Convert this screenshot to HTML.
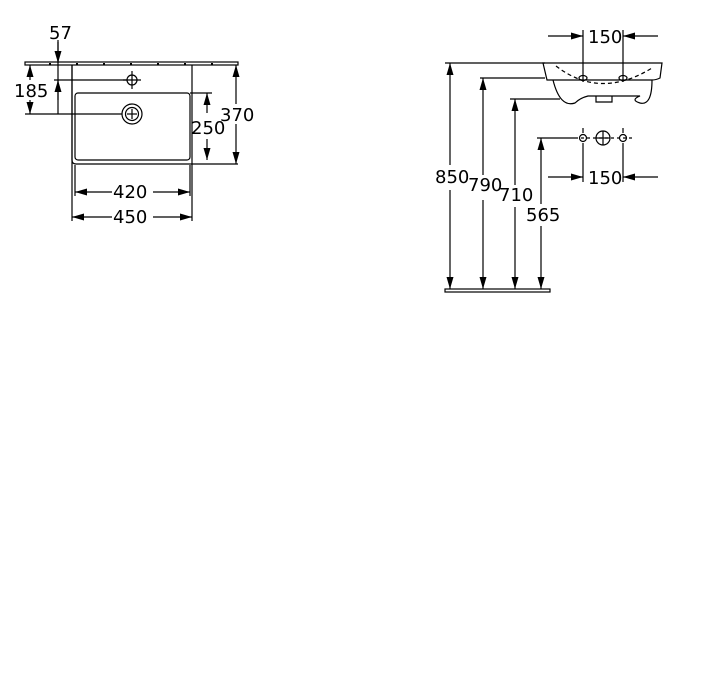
<!DOCTYPE html>
<html><head><style>
html,body{margin:0;padding:0;background:#fff;}
svg{display:block;}
text{font-family:"DejaVu Sans","Liberation Sans",sans-serif;font-size:18px;fill:#000;}
</style></head><body>
<svg width="702" height="689" viewBox="0 0 702 689" xmlns="http://www.w3.org/2000/svg">
<defs>
<marker id="a" viewBox="0 0 12 7" refX="12" refY="3.5" markerWidth="12" markerHeight="7" orient="auto-start-reverse" markerUnits="userSpaceOnUse"><path d="M0,0 L12,3.5 L0,7z" fill="#000"/></marker>
</defs>
<g stroke="#000" stroke-width="1.2" fill="none">
<!-- LEFT -->
<rect x="25" y="62" width="213" height="3" fill="none" stroke-width="1.2"/>
<g stroke-width="2"><line x1="50" y1="63" x2="50" y2="65"/><line x1="77" y1="63" x2="77" y2="65"/><line x1="104" y1="63" x2="104" y2="65"/><line x1="131" y1="63" x2="131" y2="65"/><line x1="158" y1="63" x2="158" y2="65"/><line x1="185" y1="63" x2="185" y2="65"/><line x1="212" y1="63" x2="212" y2="65"/></g>
<line x1="72" y1="65" x2="72" y2="221"/>
<line x1="192" y1="65" x2="192" y2="221"/>
<path d="M72,65 V160 Q72,164 76,164 H238"/>
<rect x="75" y="93" width="115" height="67" rx="3"/>
<line x1="190" y1="93" x2="212" y2="93"/>
<circle cx="132" cy="80" r="5"/>
<line x1="132" y1="71" x2="132" y2="89"/><line x1="123" y1="80" x2="141" y2="80"/>
<circle cx="132" cy="114" r="10"/><circle cx="132" cy="114" r="6.5"/>
<line x1="127" y1="114" x2="137" y2="114"/><line x1="132" y1="109" x2="132" y2="119"/>
<line x1="25" y1="114" x2="122" y2="114"/>
<line x1="54" y1="80" x2="127" y2="80"/>
<line x1="58" y1="40" x2="58" y2="114"/>
<line x1="58" y1="42" x2="58" y2="63" marker-end="url(#a)"/>
<line x1="58" y1="100" x2="58" y2="80" marker-end="url(#a)"/>
<line x1="30" y1="65" x2="30" y2="80" marker-start="url(#a)"/>
<line x1="30" y1="100" x2="30" y2="114" marker-end="url(#a)"/>
<line x1="207" y1="93" x2="207" y2="113" marker-start="url(#a)"/>
<line x1="207" y1="139" x2="207" y2="160" marker-end="url(#a)"/>
<line x1="236" y1="65" x2="236" y2="104" marker-start="url(#a)"/>
<line x1="236" y1="124" x2="236" y2="164" marker-end="url(#a)"/>
<line x1="75" y1="192" x2="112" y2="192" marker-start="url(#a)"/>
<line x1="153" y1="192" x2="190" y2="192" marker-end="url(#a)"/>
<line x1="75" y1="165" x2="75" y2="196"/><line x1="190" y1="165" x2="190" y2="196"/>
<line x1="72" y1="217" x2="112" y2="217" marker-start="url(#a)"/>
<line x1="153" y1="217" x2="192" y2="217" marker-end="url(#a)"/>
<!-- RIGHT -->
<line x1="445" y1="63" x2="545" y2="63"/>
<path d="M543,63 H662 L660,78 Q656,80 652,80 H547 Z"/>
<path d="M553,80 Q560,108 575,103 Q580,98 588,96 H640 Q630,100 640,103 Q652,106 652,80"/>
<path d="M596,96 V102 H612 V96"/>
<path d="M556,66 Q600,100 652,68" stroke-dasharray="4,3"/>
<ellipse cx="583" cy="78" rx="4" ry="2.5"/><ellipse cx="623" cy="78" rx="4" ry="2.5"/>
<line x1="583" y1="30" x2="583" y2="82"/><line x1="623" y1="30" x2="623" y2="82"/>
<line x1="548" y1="36" x2="583" y2="36" marker-end="url(#a)"/>
<line x1="658" y1="36" x2="623" y2="36" marker-end="url(#a)"/>
<line x1="480" y1="78" x2="545" y2="78"/>
<line x1="510" y1="99" x2="560" y2="99"/>
<line x1="537" y1="138" x2="575" y2="138"/>
<line x1="575" y1="138" x2="635" y2="138" stroke-dasharray="3,3"/>
<circle cx="583" cy="138" r="3.5"/><circle cx="623" cy="138" r="3.5"/><circle cx="603" cy="138" r="7"/>
<line x1="603" y1="131" x2="603" y2="145"/><line x1="596" y1="138" x2="610" y2="138"/>
<line x1="583" y1="128" x2="583" y2="133" /><line x1="623" y1="128" x2="623" y2="133"/>
<line x1="583" y1="143" x2="583" y2="182"/>
<line x1="623" y1="143" x2="623" y2="182"/>
<line x1="548" y1="177" x2="583" y2="177" marker-end="url(#a)"/>
<line x1="658" y1="177" x2="623" y2="177" marker-end="url(#a)"/>
<line x1="450" y1="63" x2="450" y2="165" marker-start="url(#a)"/>
<line x1="450" y1="190" x2="450" y2="289" marker-end="url(#a)"/>
<line x1="483" y1="78" x2="483" y2="175" marker-start="url(#a)"/>
<line x1="483" y1="200" x2="483" y2="289" marker-end="url(#a)"/>
<line x1="515" y1="99" x2="515" y2="185" marker-start="url(#a)"/>
<line x1="515" y1="207" x2="515" y2="289" marker-end="url(#a)"/>
<line x1="541" y1="138" x2="541" y2="204" marker-start="url(#a)"/>
<line x1="541" y1="226" x2="541" y2="289" marker-end="url(#a)"/>
<rect x="445" y="289" width="105" height="3" fill="none"/>
</g>
<text x="49" y="39">57</text>
<text x="14" y="97">185</text>
<text x="191" y="134">250</text>
<text x="220" y="121">370</text>
<text x="113" y="198">420</text>
<text x="113" y="223">450</text>
<text x="588" y="43">150</text>
<text x="588" y="184">150</text>
<text x="435" y="183">850</text>
<text x="468" y="191">790</text>
<text x="499" y="201">710</text>
<text x="526" y="221">565</text>
</svg>
</body></html>
